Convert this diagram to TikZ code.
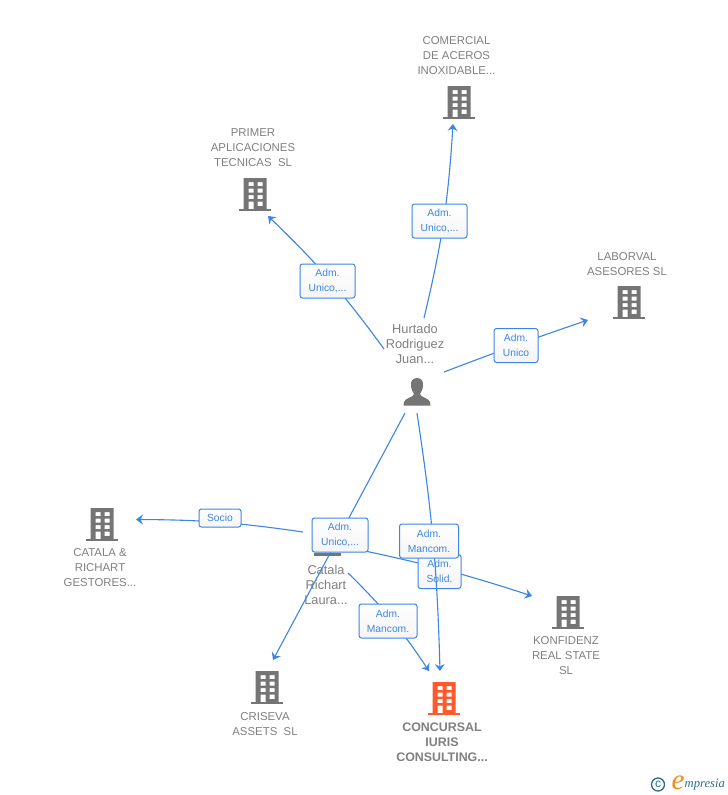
\documentclass[tikz,border=0pt]{standalone}
\usepackage{fontspec}
\setmainfont{Liberation Sans}
\newfontfamily\logofont{Liberation Serif}
\usetikzlibrary{arrows.meta}
\definecolor{linkblue}{HTML}{3C85E4}
\definecolor{icongray}{HTML}{757575}
\definecolor{textgray}{HTML}{808080}
\definecolor{hotorange}{HTML}{FF5A2C}
\definecolor{logoteal}{HTML}{2E6E8C}
\definecolor{logoorange}{HTML}{F28A1E}
\tikzset{
  link/.style={draw=linkblue,line width=1.1pt},
  arrowlink/.style={link,-{Stealth[length=7pt,width=10pt,inset=2.5pt]}},
  edgelabel/.style={draw=linkblue,line width=1pt,rounded corners=2.5pt,top color=white,bottom color=black!4,
    text=linkblue,font=\fontsize{10.3}{15}\selectfont,align=center,inner sep=0pt,minimum height=34pt},
  nametext/.style={text=textgray,font=\fontsize{11.4}{15}\selectfont,align=center,inner sep=0pt},
  persontext/.style={text=textgray,font=\fontsize{12.8}{15}\selectfont,align=center,inner sep=0pt},
  building/.pic={
    \fill[#1,even odd rule]
      (-11.5,1) rectangle (11.5,32)
      (-6.5,5) rectangle (-1.5,9)
      (2.5,5) rectangle (7.5,9)
      (-6.5,11.5) rectangle (-1.5,15.5)
      (2.5,11.5) rectangle (7.5,15.5)
      (-6.5,18) rectangle (-1.5,22)
      (2.5,18) rectangle (7.5,22)
      (-6.5,24.5) rectangle (-1.5,32)
      (2.5,24.5) rectangle (7.5,29);
    \fill[#1] (-16,31.5) rectangle (16,34);
  }
}
\begin{document}
\begin{tikzpicture}[x=1pt,y=-1pt]
\useasboundingbox (0,0) rectangle (728,795);
\fill[white] (0,0) rectangle (728,795);

% buildings
\pic at (459,85) {building=icongray};
\pic at (255,177) {building=icongray};
\pic at (629,285) {building=icongray};
\pic at (102,507) {building=icongray};
\pic at (568,595) {building=icongray};
\pic at (267,670) {building=icongray};
\fill[icongray] (314,553) rectangle (341,556);
\pic at (444,681) {building=hotorange};

% person
\fill[icongray] (417,378) .. controls (412,378) and (410.5,382) .. (411,386)
  .. controls (411.3,390) and (413,392) .. (414,394)
  .. controls (414,397) and (405,398) .. (404,402) -- (403.5,405.5) -- (430.5,405.5) -- (430,402)
  .. controls (429,398) and (420,397) .. (420,394)
  .. controls (421,392) and (422.7,390) .. (423,386)
  .. controls (423.5,382) and (422,378) .. (417,378) -- cycle;

% names
\node[nametext] (comercial) at (456.5,56) {COMERCIAL\\DE ACEROS\\INOXIDABLE...};
\node[nametext] (primer) at (253,148) {PRIMER\\APLICACIONES\\TECNICAS\ \ SL};
\node[nametext] (laborval) at (627,264) {LABORVAL\\ASESORES SL};
\node[persontext] (hurtado) at (415,344) {Hurtado\\Rodriguez\\Juan...};
\node[nametext] (catalar) at (100,568) {CATALA \&\\RICHART\\GESTORES...};
\node[persontext] (laura) at (326,585) {Catala\\Richart\\Laura...};
\node[nametext] (konfidenz) at (566,656) {KONFIDENZ\\REAL STATE\\SL};
\node[nametext] (criseva) at (265,724) {CRISEVA\\ASSETS\ \ SL};
\node[font=\fontsize{12.4}{15}\selectfont\bfseries,align=center,inner sep=0pt,text=textgray] (concursal) at (442,742) {CONCURSAL\\IURIS\\CONSULTING...};

% connector ends
\coordinate (hN) at (424,318);
\coordinate (tComercial) at (453,124);
\coordinate (hW) at (384,349);
\coordinate (tPrimer) at (268,216);
\coordinate (hE) at (444,372);
\coordinate (tLaborval) at (588,320);
\coordinate (hSW) at (405,413);
\coordinate (tCriseva) at (273,660);
\coordinate (hS) at (417,413);
\coordinate (tConcursalA) at (440,671);
\coordinate (lW) at (303,532);
\coordinate (tCatalar) at (136,519.5);
\coordinate (lE) at (365,551);
\coordinate (tKonfidenz) at (532,596);
\coordinate (lSE) at (348,573);
\coordinate (tConcursalB) at (429,671);

% connectors below the labels
\draw[arrowlink] (hN) to[bend right=5] (tComercial);
\draw[arrowlink] (hW) to[bend right=5] (tPrimer);
\draw[arrowlink] (hE) to[bend left=1] (tLaborval);
\draw[arrowlink] (hSW) to (tCriseva);
\draw[arrowlink] (lW) to[bend right=4] (tCatalar);
\draw[arrowlink] (lE) to[bend left=3] (tKonfidenz);
\draw[arrowlink] (lSE) to[bend left=6] (tConcursalB);

% labels
\node[edgelabel,minimum width=55pt] (l1) at (439.5,221) {Adm.\\Unico,...};
\node[edgelabel,minimum width=55pt] (l2) at (327.5,281) {Adm.\\Unico,...};
\node[edgelabel,minimum width=44pt] (l3) at (516,345.5) {Adm.\\Unico};
\node[edgelabel,minimum width=42pt,minimum height=18pt] (l4) at (220,518) {Socio};
\node[edgelabel,minimum width=58pt] (l7) at (388,621) {Adm.\\Mancom.};
\node[edgelabel,minimum width=43pt] (l6) at (439.5,571.5) {Adm.\\Solid.};
\draw[arrowlink] (hS) to[bend left=3.5] (tConcursalA);
\node[edgelabel,minimum width=56pt] (l5) at (340,535) {Adm.\\Unico,...};
\node[edgelabel,minimum width=59pt] (l8) at (429,541) {Adm.\\Mancom.};

% logo
\node[circle,draw=logoteal,line width=1.3pt,text=logoteal,inner sep=0pt,minimum size=13pt,font=\fontsize{12}{12}\selectfont] (copyr) at (658,784.5) {c};
\node[text=logoorange,font=\logofont\itshape\fontsize{29}{29}\selectfont,inner sep=0pt] (logoe) at (678,783) {e};
\node[text=logoteal,font=\logofont\itshape\fontsize{12.6}{13}\selectfont,inner sep=0pt,anchor=west] (logot) at (684.5,785) {mpresia};
\end{tikzpicture}
\end{document}
